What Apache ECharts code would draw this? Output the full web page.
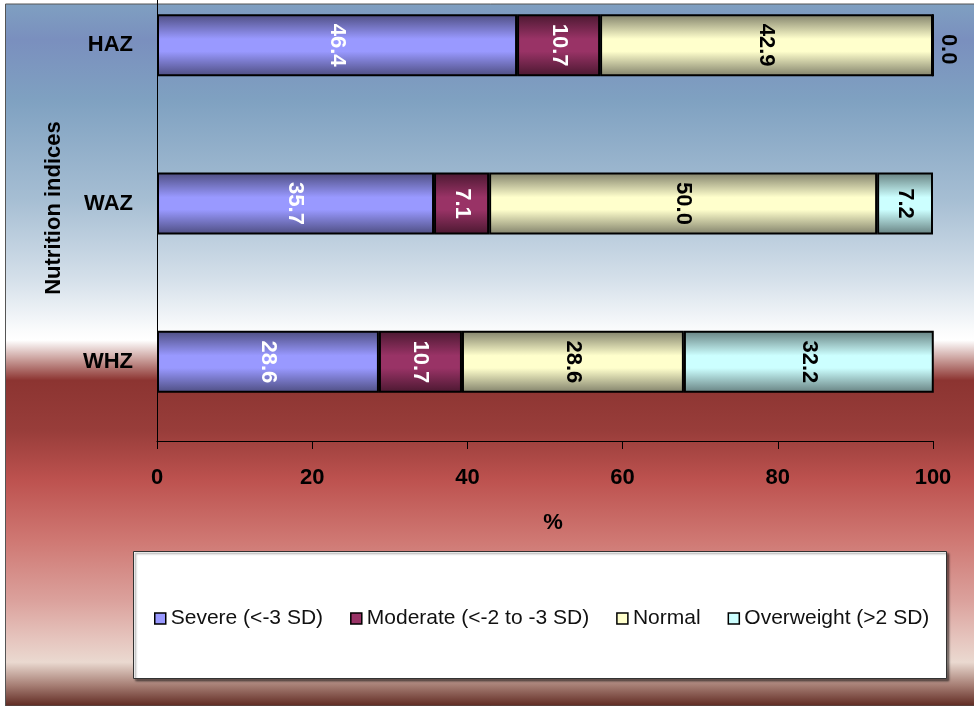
<!DOCTYPE html>
<html>
<head>
<meta charset="utf-8">
<script src="https://cdn.jsdelivr.net/npm/echarts@6/dist/echarts.min.js"></script>
<style>
  html, body { margin: 0; padding: 0; background: #ffffff; overflow: hidden; }
  #frame { position: relative; width: 974px; height: 706px; overflow: hidden; }
  /* The plot band runs above the visible top edge, so the canvas is taller and shifted up */
  #chart { position: absolute; left: 0; top: -34px; width: 974px; height: 740px; }
</style>
</head>
<body>
<div id="frame"><div id="chart"></div></div>
<script>
// Nutrition indices by Z-score group (percent of children)
const indices = ['HAZ', 'WAZ', 'WHZ'];
const severe = [46.4, 35.7, 28.6];
const moderate = [10.7, 7.1, 10.7];
const normal = [42.9, 50.0, 28.6];
const overweight = [0.0, 7.2, 32.2];
const groupNames = ['Severe (<-3 SD)', 'Moderate (<-2 to -3 SD)', 'Normal', 'Overweight (>2 SD)'];
const xMin = 0, xMax = 100, xStep = 20;

const SHIFT = 34; // canvas rows hidden above the page top
const FONT = '"Liberation Sans", Arial, sans-serif';
const chart = echarts.init(document.getElementById('chart'), null, { renderer: 'canvas' });

// Shaded fill: dark edges, light middle band
function shade(light, dark) {
  return new echarts.graphic.LinearGradient(0, 0, 0, 1, [
    { offset: 0, color: dark },
    { offset: 0.4, color: light },
    { offset: 0.6, color: light },
    { offset: 1, color: dark }
  ]);
}
const palette = [
  { light: '#9999ff', dark: '#4d4d80', text: '#ffffff' },
  { light: '#993366', dark: '#4a1830', text: '#ffffff' },
  { light: '#ffffcc', dark: '#80806a', text: '#000000' },
  { light: '#ccffff', dark: '#668080', text: '#000000' }
];
const groupValues = [severe, moderate, normal, overweight];

const series = groupValues.map((vals, i) => ({
  name: groupNames[i],
  type: 'bar',
  stack: 'total',
  barWidth: 62,
  data: vals.map(v => v === 0
    ? { value: v, label: { offset: [4, -15], color: '#000000' } }
    : v),
  itemStyle: {
    color: shade(palette[i].light, palette[i].dark),
    borderColor: '#000000',
    borderWidth: 2
  },
  label: {
    show: true,
    position: 'inside',
    rotate: -90,
    formatter: p => Number(p.value).toFixed(1),
    color: palette[i].text,
    fontFamily: FONT,
    fontWeight: 'bold',
    fontSize: 22
  }
}));

const bg = new echarts.graphic.LinearGradient(0, 0, 0, 1, [
  { offset: 0.000, color: '#7fa0c1' },
  { offset: 0.051, color: '#7a8fbe' },
  { offset: 0.137, color: '#7fa1c1' },
  { offset: 0.279, color: '#a6bed3' },
  { offset: 0.393, color: '#d5e0ea' },
  { offset: 0.464, color: '#fafbfc' },
  { offset: 0.479, color: '#ffffff' },
  { offset: 0.507, color: '#c89c98' },
  { offset: 0.536, color: '#8c3431' },
  { offset: 0.607, color: '#983d3a' },
  { offset: 0.678, color: '#bd524f' },
  { offset: 0.764, color: '#cf7873' },
  { offset: 0.849, color: '#dba19c' },
  { offset: 0.906, color: '#e6c6bf' },
  { offset: 0.937, color: '#ead9d0' },
  { offset: 0.970, color: '#a67e74' },
  { offset: 1.000, color: '#5e2820' }
]);

chart.setOption({
  animation: false,
  backgroundColor: '#ffffff',
  textStyle: { fontFamily: FONT },
  graphic: [
    {
      type: 'rect', z: -10, silent: true,
      shape: { x: 5.5, y: 4 + SHIFT, width: 980, height: 702 },
      style: { fill: bg, stroke: '#555555', lineWidth: 1 }
    },
    {
      type: 'rect', z: 1, silent: true,
      shape: { x: 133.5, y: 551.5 + SHIFT, width: 813, height: 127 },
      style: {
        fill: '#ffffff', stroke: '#333333', lineWidth: 1,
        shadowColor: 'rgba(0,0,0,0.45)', shadowOffsetX: 2, shadowOffsetY: 2, shadowBlur: 2
      }
    },
    {
      type: 'text', z: 5, silent: true,
      x: 54, y: 208 + SHIFT, rotation: Math.PI / 2,
      style: {
        text: 'Nutrition indices', fill: '#000000',
        font: 'bold 22px ' + FONT, align: 'center', verticalAlign: 'middle'
      }
    },
    {
      type: 'text', z: 5, silent: true,
      x: 553, y: 523 + SHIFT,
      style: {
        text: '%', fill: '#000000',
        font: 'bold 22px ' + FONT, align: 'center', verticalAlign: 'middle'
      }
    }
  ],
  legend: {
    data: groupNames.map((n, i) => ({
      name: n,
      itemStyle: { color: palette[i].light, borderColor: '#000000', borderWidth: 1.5 }
    })),
    left: 154,
    top: 608 + SHIFT,
    padding: 0,
    itemGap: 27,
    itemWidth: 11,
    itemHeight: 11,
    icon: 'rect',
    textStyle: { fontFamily: FONT, fontSize: 21, color: '#111111' },
    selectedMode: false
  },
  grid: { left: 157, right: 41, top: 0, bottom: 265, containLabel: false },
  xAxis: {
    type: 'value',
    min: xMin, max: xMax, interval: xStep,
    splitLine: { show: false },
    axisLine: { show: true, lineStyle: { color: '#000000', width: 1 } },
    axisTick: { show: true, length: 8, lineStyle: { color: '#000000', width: 1 } },
    axisLabel: {
      margin: 26, color: '#000000',
      fontFamily: FONT, fontWeight: 'bold', fontSize: 22
    }
  },
  yAxis: {
    type: 'category',
    data: indices,
    inverse: true,
    axisLine: { show: true, lineStyle: { color: '#000000', width: 1 } },
    axisTick: { show: false },
    axisLabel: {
      margin: 24, color: '#000000',
      fontFamily: FONT, fontWeight: 'bold', fontSize: 22
    }
  },
  series: series
});
</script>
</body>
</html>
